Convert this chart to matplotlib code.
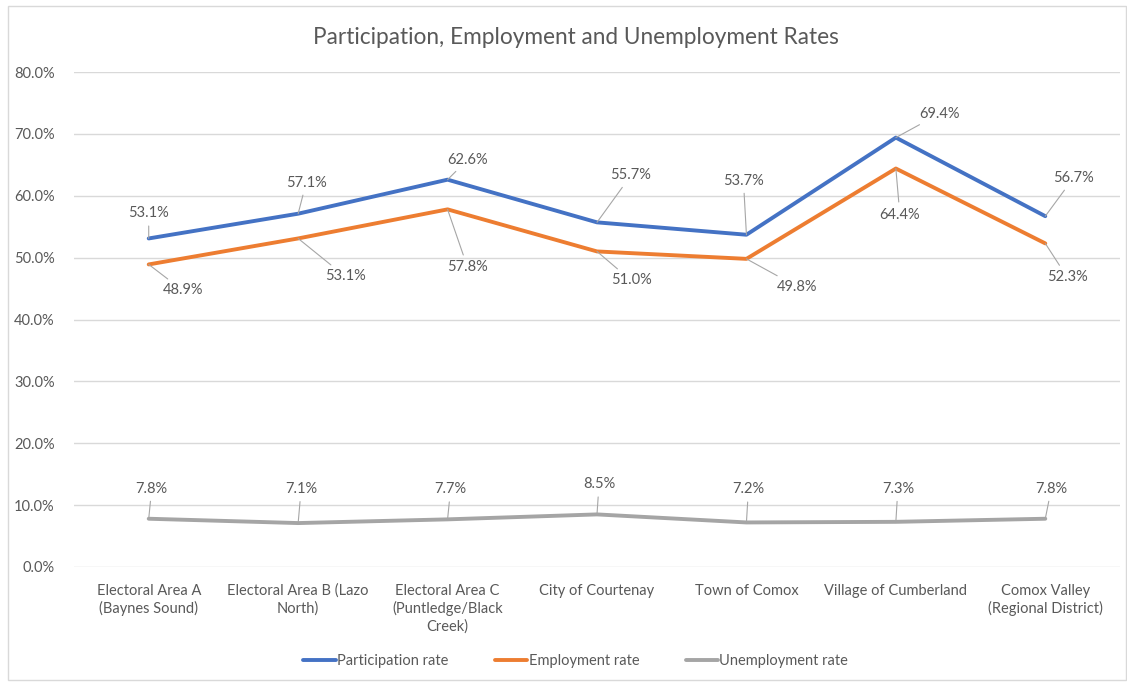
import matplotlib
matplotlib.use('Agg')
import matplotlib.pyplot as plt
from matplotlib.patches import Rectangle
from matplotlib.ticker import PercentFormatter

plt.rcParams['font.family'] = ['Lato', 'DejaVu Sans']

categories = ['Electoral Area A\n(Baynes Sound)', 'Electoral Area B (Lazo\nNorth)',
              'Electoral Area C\n(Puntledge/Black\nCreek)', 'City of Courtenay',
              'Town of Comox', 'Village of Cumberland', 'Comox Valley\n(Regional District)']
participation = [53.1, 57.1, 62.6, 55.7, 53.7, 69.4, 56.7]
employment = [48.9, 53.1, 57.8, 51.0, 49.8, 64.4, 52.3]
unemployment = [7.8, 7.1, 7.7, 8.5, 7.2, 7.3, 7.8]

# label offsets (pixels) for the data labels
part_off = [(0, 25), (8, 31), (20, 20), (34, 47), (-3, 54), (44, 24), (28, 38)]
emp_off = [(34, -26), (47, -38), (20, -58), (34, -29), (51, -28), (4, -46), (22, -34)]
unemp_off = [(3, 30), (3, 34), (3, 30), (2, 30), (2, 33), (2, 33), (6, 30)]

grey_txt = '#595959'
fig = plt.figure(figsize=(11.27, 6.83), dpi=100)
fig.patches.append(Rectangle((8 / 1127, 3 / 683), 1118 / 1127, 674 / 683, transform=fig.transFigure,
                             fill=False, edgecolor='#D9D9D9', lw=1))
ax = fig.add_axes([74 / 1127, 1 - 567 / 683, 1046 / 1127, 495 / 683])

x = list(range(len(categories)))
series = [(participation, '#4472C4', 'Participation rate', part_off),
          (employment, '#ED7D31', 'Employment rate', emp_off),
          (unemployment, '#A5A5A5', 'Unemployment rate', unemp_off)]
for vals, col, name, offs in series:
    ax.plot(x, vals, color=col, lw=2.8, label=name, solid_capstyle='round', zorder=3)
    for xi, v, (dx, dy) in zip(x, vals, offs):
        ax.annotate(f'{v:.1f}%', (xi, v), xytext=(dx, dy), textcoords='offset pixels',
                    ha='center', va='center', fontsize=10.5, color=grey_txt,
                    arrowprops=dict(arrowstyle='-', color='#A6A6A6', lw=0.8,
                                    shrinkA=2, shrinkB=0))

ax.set_xlim(-0.5, 6.5)
ax.set_ylim(0, 80)
ax.set_yticks(range(0, 81, 10))
ax.yaxis.set_major_formatter(PercentFormatter(decimals=1))
ax.set_xticks(x)
ax.set_xticklabels(categories, fontsize=10.5, color=grey_txt, linespacing=1.3)
ax.tick_params(axis='y', labelsize=10.5, labelcolor=grey_txt, length=0, pad=14)
ax.tick_params(axis='x', length=0, pad=12)
ax.grid(axis='y', color='#D9D9D9', lw=1)
ax.set_axisbelow(True)
for s in ax.spines.values():
    s.set_visible(False)

fig.text(0.511, 1 - 38 / 683, 'Participation, Employment and Unemployment Rates',
         ha='center', va='center', fontsize=16.3, color=grey_txt)

fig.legend(loc='center', bbox_to_anchor=(0.511, 1 - 661 / 683), ncol=3, frameon=False,
           fontsize=10.5, labelcolor=grey_txt, handlelength=2.2, handletextpad=0.1,
           columnspacing=3.2)

fig.savefig('out.png', dpi=100)
